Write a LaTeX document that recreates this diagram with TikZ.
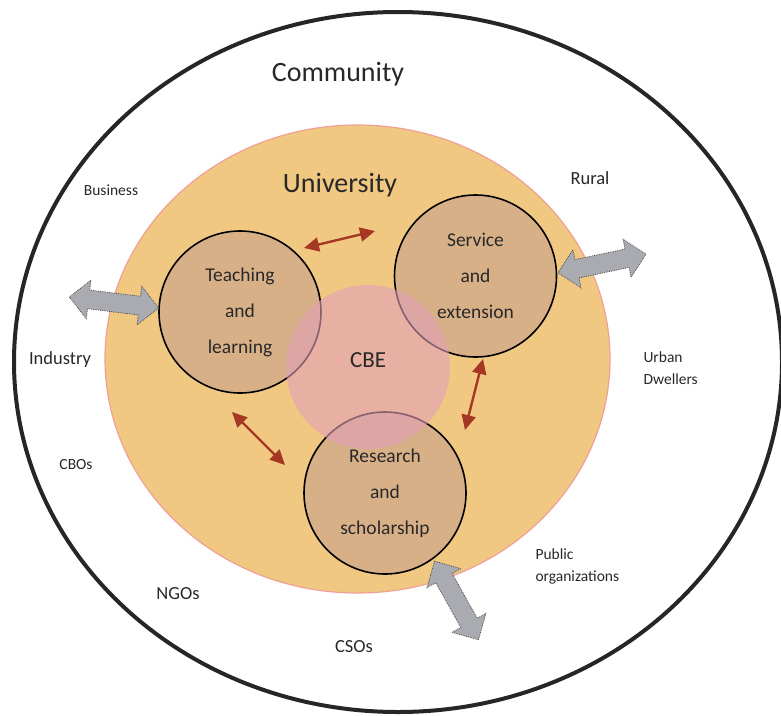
\documentclass[tikz,border=0pt]{standalone}
\usepackage{fontspec}
\setmainfont{Carlito}
\usetikzlibrary{arrows.meta, positioning, calc, shapes.geometric, shapes.arrows}

\definecolor{unifill}{RGB}{240,200,130}
\definecolor{uniedge}{RGB}{240,160,150}
\definecolor{areafill}{RGB}{215,176,136}
\definecolor{cbefill}{RGB}{225,160,185}
\definecolor{linkred}{RGB}{165,55,35}
\definecolor{flowgray}{RGB}{170,171,176}
\definecolor{txtgray}{RGB}{40,40,40}

\begin{document}
\begin{tikzpicture}[
  x=1pt, y=1pt,
  every node/.style = {text=txtgray},
  area/.style = {draw, line width=1.6pt, circle, fill=areafill, minimum size=162pt, inner sep=0pt, align=center, font=\fontsize{19.5}{36}\selectfont},
  link/.style = {linkred, line width=2.4pt, {Triangle[length=15pt, width=14pt]}-{Triangle[length=15pt, width=14pt]}},
  flow/.style = {double arrow, draw=black!70, densely dotted, line width=0.8pt, fill=flowgray, minimum height=90pt, double arrow head extend=10pt, inner xsep=0pt, inner ysep=9pt},
  big/.style = {font=\fontsize{28}{34}\selectfont},
  mid/.style = {font=\fontsize{18.5}{22}\selectfont},
  small/.style = {font=\fontsize{15.5}{21.5}\selectfont, align=left}
]
\useasboundingbox (0,0) rectangle (781,-715);

% Community ring
\node[draw=black!85, line width=4pt, ellipse, minimum width=768pt, minimum height=700pt] (commarea) at (398,-362) {};
\node[big] (commlabel) at (338,-74) {Community};

% University
\node[draw=uniedge, line width=1.2pt, ellipse, fill=unifill, minimum width=505pt, minimum height=468pt] (uniarea) at (357.5,-359) {};
\node[big] (unilabel) at (340,-185) {University};

% Three functions
\node[area] (teach) at (240,-312) {Teaching\\and\\learning};
\node[area] (serve) at (475.5,-276) {Service\\and\\extension};
\node[area] (research) at (385,-493) {Research\\and\\scholarship};

% CBE in the middle
\node[circle, fill=cbefill, fill opacity=0.6, minimum size=164pt] (cbe) at (368,-367) {};
\node[font=\fontsize{23}{28}\selectfont] (cbelabel) at ($(cbe.center)+(0,7)$) {CBE};

% Links between functions
\coordinate (ts1) at (304,-248);
\coordinate (ts2) at (375,-231);
\coordinate (tr1) at (232,-412);
\coordinate (tr2) at (285,-465);
\coordinate (sr1) at (483,-359);
\coordinate (sr2) at (465,-430);
\draw[link] (ts1) -- (ts2);
\draw[link] (tr1) -- (tr2);
\draw[link] (sr1) -- (sr2);

% Exchange with the community
\node[flow, rotate=-7] (indflow) at (114,-302.5) {};
\node[flow, rotate=12] (ruralflow) at (602,-263.5) {};
\node[flow, rotate=-60.8] (pubflow) at (456.5,-600.5) {};

% Community groups
\node[small] (business) at (111,-190) {Business};
\node[mid] (industry) at (60,-360) {Industry};
\node[small] (cbos) at (76,-465) {CBOs};
\node[mid] (ngos) at (178,-594) {NGOs};
\node[mid] (csos) at (354,-647) {CSOs};
\node[mid] (rural) at (590,-178) {Rural};
\node[small, anchor=west] (urban) at (640,-368) {Urban\\Dwellers};
\node[small, anchor=west] (public) at (532,-566.5) {Public\\organizations};

\end{tikzpicture}
\end{document}
